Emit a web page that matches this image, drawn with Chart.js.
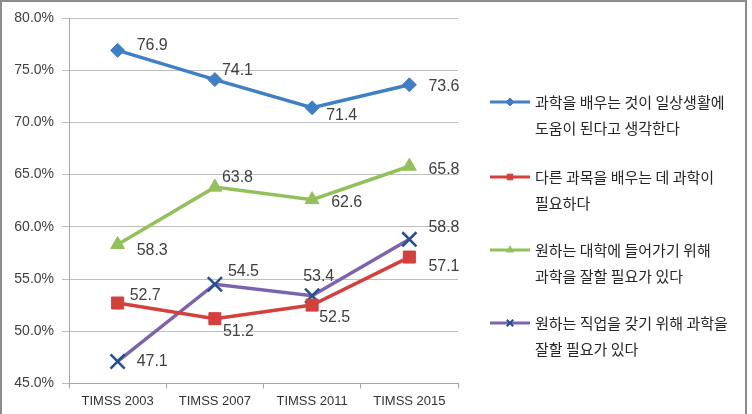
<!DOCTYPE html>
<html>
<head>
<meta charset="utf-8">
<script src="https://cdn.jsdelivr.net/npm/chart.js@4.4.0/dist/chart.umd.min.js"></script>
<style>
  html, body { margin: 0; padding: 0; background: #fff; }
  #wrap { position: relative; width: 752px; height: 414px; }
  #frame { position: absolute; left: 0; top: 0; width: 743px; height: 414px;
           border-left: 2px solid #8c8c8c; border-top: 2px solid #8c8c8c; border-right: 2px solid #8c8c8c;
           box-sizing: content-box; pointer-events: none; }
</style>
</head>
<body>
<div id="wrap">
  <canvas id="c" width="752" height="414"></canvas>
  <div id="frame"></div>
</div>
<script>
// ---- data ----
const categories = ['TIMSS 2003', 'TIMSS 2007', 'TIMSS 2011', 'TIMSS 2015'];
const seriesNames = [
  ['과학을 배우는 것이 일상생활에', '도움이 된다고 생각한다'],
  ['다른 과목을 배우는 데 과학이', '필요하다'],
  ['원하는 대학에 들어가기 위해', '과학을 잘할 필요가 있다'],
  ['원하는 직업을 갖기 위해 과학을', '잘할 필요가 있다']
];
const dailyLife = [76.9, 74.1, 71.4, 73.6];
const otherSubjects = [52.7, 51.2, 52.5, 57.1];
const university = [58.3, 63.8, 62.6, 65.8];
const career = [47.1, 54.5, 53.4, 58.8];
const yTicks = [45, 50, 55, 60, 65, 70, 75, 80];

// label offsets (placement only, px relative to point)
const labelOffsets = [
  [[19, -5], [7, -9], [14, 8], [19, 2]],
  [[12, -7], [8, 13], [7, 12], [19, 10]],
  [[19, 6], [7, -10], [19, 3], [19, 3]],
  [[19, 0], [13, -13], [-9, -19], [19, -12]]
];

const colors = {
  blue: '#3f7fc6', red: '#d3413d', green: '#93c159', purple: '#7d62ae', navy: '#244f90'
};

const datasets = [
  { label: seriesNames[0].join(' '), data: dailyLife, borderColor: colors.blue, backgroundColor: colors.blue,
    pointStyle: 'rectRot', pointRadius: 7, pointBorderColor: colors.blue, pointBackgroundColor: colors.blue, pointBorderWidth: 1 },
  { label: seriesNames[1].join(' '), data: otherSubjects, borderColor: colors.red, backgroundColor: colors.red,
    pointStyle: 'rect', pointRadius: 8.5, pointBorderColor: colors.red, pointBackgroundColor: colors.red, pointBorderWidth: 1 },
  { label: seriesNames[2].join(' '), data: university, borderColor: colors.green, backgroundColor: colors.green,
    pointStyle: 'triangle', pointRadius: 8, pointBorderColor: colors.green, pointBackgroundColor: colors.green, pointBorderWidth: 1 },
  { label: seriesNames[3].join(' '), data: career, borderColor: colors.purple, backgroundColor: colors.navy,
    pointStyle: 'crossRot', pointRadius: 10, pointBorderColor: colors.navy, pointBackgroundColor: colors.navy, pointBorderWidth: 2.5 }
];
datasets.forEach(d => { d.borderWidth = 3.5; d.tension = 0; d.fill = false; d.pointHoverRadius = d.pointRadius; });

const legendMarkers = ['rectRot', 'rect', 'triangle', 'crossRot'];

const dataLabels = {
  id: 'dataLabels',
  afterDatasetsDraw(chart) {
    const ctx = chart.ctx;
    ctx.save();
    ctx.font = '16px "Liberation Sans", Arial, sans-serif';
    ctx.fillStyle = '#404040';
    ctx.textAlign = 'left';
    ctx.textBaseline = 'middle';
    chart.data.datasets.forEach((ds, di) => {
      const meta = chart.getDatasetMeta(di);
      meta.data.forEach((pt, i) => {
        const off = labelOffsets[di][i];
        ctx.fillText(ds.data[i].toFixed(1), pt.x + off[0], pt.y + off[1]);
      });
    });
    ctx.restore();
  }
};

const sideLegend = {
  id: 'sideLegend',
  afterDraw(chart) {
    const ctx = chart.ctx;
    ctx.save();
    const startY = [102, 177, 250, 323];
    chart.data.datasets.forEach((ds, di) => {
      const y = startY[di];
      ctx.strokeStyle = ds.borderColor;
      ctx.lineWidth = 3;
      ctx.beginPath();
      ctx.moveTo(490, y);
      ctx.lineTo(530, y);
      ctx.stroke();
      ctx.fillStyle = ds.pointBackgroundColor;
      ctx.strokeStyle = ds.pointBorderColor;
      ctx.lineWidth = di === 3 ? 2 : 1;
      Chart.helpers.drawPoint(ctx, { pointStyle: legendMarkers[di], radius: di === 3 ? 4.5 : 4, rotation: 0, borderWidth: ctx.lineWidth }, 510, y);
      ctx.font = '15px "Noto Sans CJK KR", sans-serif';
      ctx.fillStyle = '#262626';
      ctx.textAlign = 'left';
      ctx.textBaseline = 'middle';
      seriesNames[di].forEach((line, li) => ctx.fillText(line, 535, y + li * 26));
    });
    ctx.restore();
  }
};

new Chart(document.getElementById('c'), {
  type: 'line',
  data: { labels: categories, datasets },
  options: {
    responsive: false,
    animation: false,
    events: [],
    layout: { padding: { left: 0, top: 18, right: 294, bottom: 0 } },
    plugins: { legend: { display: false }, tooltip: { enabled: false } },
    scales: {
      x: {
        offset: true,
        grid: { drawOnChartArea: false, tickLength: 5, color: '#a6a6a6', offset: true },
        border: { color: '#a6a6a6' },
        ticks: { color: '#333333', font: { family: '"Liberation Sans", Arial, sans-serif', size: 13 }, padding: 5, maxRotation: 0 }
      },
      y: {
        min: 45, max: 80,
        afterBuildTicks(scale) { scale.ticks = yTicks.map(v => ({ value: v })); },
        afterFit(scale) { scale.width = 69; },
        grid: { color: '#bdbdbd', tickLength: 7, lineWidth: 1 },
        border: { color: '#a6a6a6' },
        ticks: { color: '#404040', font: { family: '"Liberation Sans", Arial, sans-serif', size: 14 }, padding: 8,
                 callback: v => v.toFixed(1) + '%' }
      }
    }
  },
  plugins: [dataLabels, sideLegend]
});
</script>
</body>
</html>
